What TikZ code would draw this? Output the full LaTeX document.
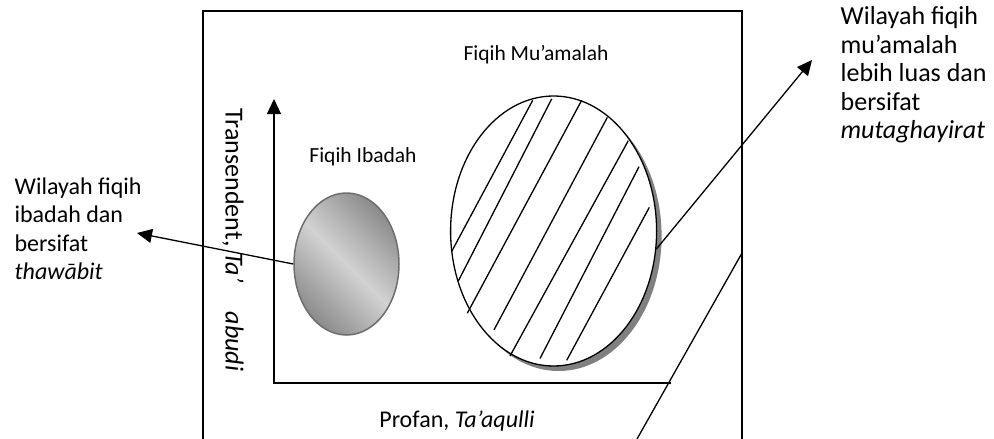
\documentclass[tikz,border=0pt]{standalone}
\usepackage{fontspec}
\setmainfont{Carlito}
\usetikzlibrary{arrows.meta,shapes.geometric,shadows}
\definecolor{shadegray}{RGB}{128,128,128}
\definecolor{rimgray}{RGB}{110,110,110}
\definecolor{darkfill}{RGB}{140,140,140}
\definecolor{lightfill}{RGB}{210,210,210}

\begin{document}
\begin{tikzpicture}[>={Triangle[length=15pt,width=14pt]},x=1pt,y=-1pt,line width=1.3pt,
  note/.style={align=left,inner sep=0pt,font=\fontsize{24}{28.5}\selectfont},
  bignote/.style={note,font=\fontsize{26}{28.4}\selectfont},
  lbl/.style={inner sep=0pt,font=\fontsize{21.5}{26}\selectfont}]
\useasboundingbox (0,0) rectangle (994,439);
% frame, open at the bottom
\draw (203,439) -- (203,11) -- (742,11) -- (742,439);
% axes
\coordinate (o) at (274,383);
\coordinate (ytop) at (274,99);
\coordinate (xend) at (671,383);
\draw[->] (xend) -- (o) -- (ytop);
% the two regions
\node[ellipse,draw=rimgray,line width=1.5pt,minimum width=105,minimum height=142,inner sep=0pt,
  top color=darkfill,bottom color=darkfill,middle color=lightfill,shading angle=-45] (ibadah) at (346.5,264) {};
\node[ellipse,draw,fill=white,minimum width=206,minimum height=270,inner sep=0pt,
  general shadow={fill=shadegray,shadow xshift=5pt,shadow yshift=-5pt}] (muamalah) at (553.6,231) {};
% hatching
\draw (451.7,251.4) -- (532.7,100.3);
\draw (458.3,281.0) -- (551.7,98.9);
\draw (467.3,313.2) -- (581.7,100.3);
\draw (494,329.9) -- (607.3,117.4);
\draw (510,356.0) -- (628.3,140.7);
\draw (540,358.5) -- (639,166.7);
\draw (566.7,360.3) -- (649.3,207.4);
% labels
\node[lbl] (muamalahlbl) at (536,55) {Fiqih Mu’amalah};
\node[lbl] (ibadahlbl) at (363,157) {Fiqih Ibadah};
\node[note] (profan) at (457,421) {Profan, \textit{Ta’aqulli}};
\node[bignote,rotate=-90] (transenden) at (233,240) {Transendent, \textit{Ta’\hspace{29pt}abudi}};
\node[note,anchor=west] (lwil) at (14,229) {Wilayah fiqih\\ibadah dan\\bersifat\\\textit{thawābit}};
\node[bignote,anchor=west] (rwil) at (840,75) {Wilayah fiqih\\mu’amalah\\lebih luas dan\\bersifat\\\textit{mutaghayirat}};
% pointers
\coordinate (ltip) at (137,233);
\coordinate (rtip) at (812,60);
\coordinate (la) at (637,439);
\coordinate (lb) at (742,253);
\draw[->] (ibadah.west) -- (ltip);
\draw[->] (muamalah.-10) -- (rtip);
\draw (la) -- (lb);
\end{tikzpicture}
\end{document}
